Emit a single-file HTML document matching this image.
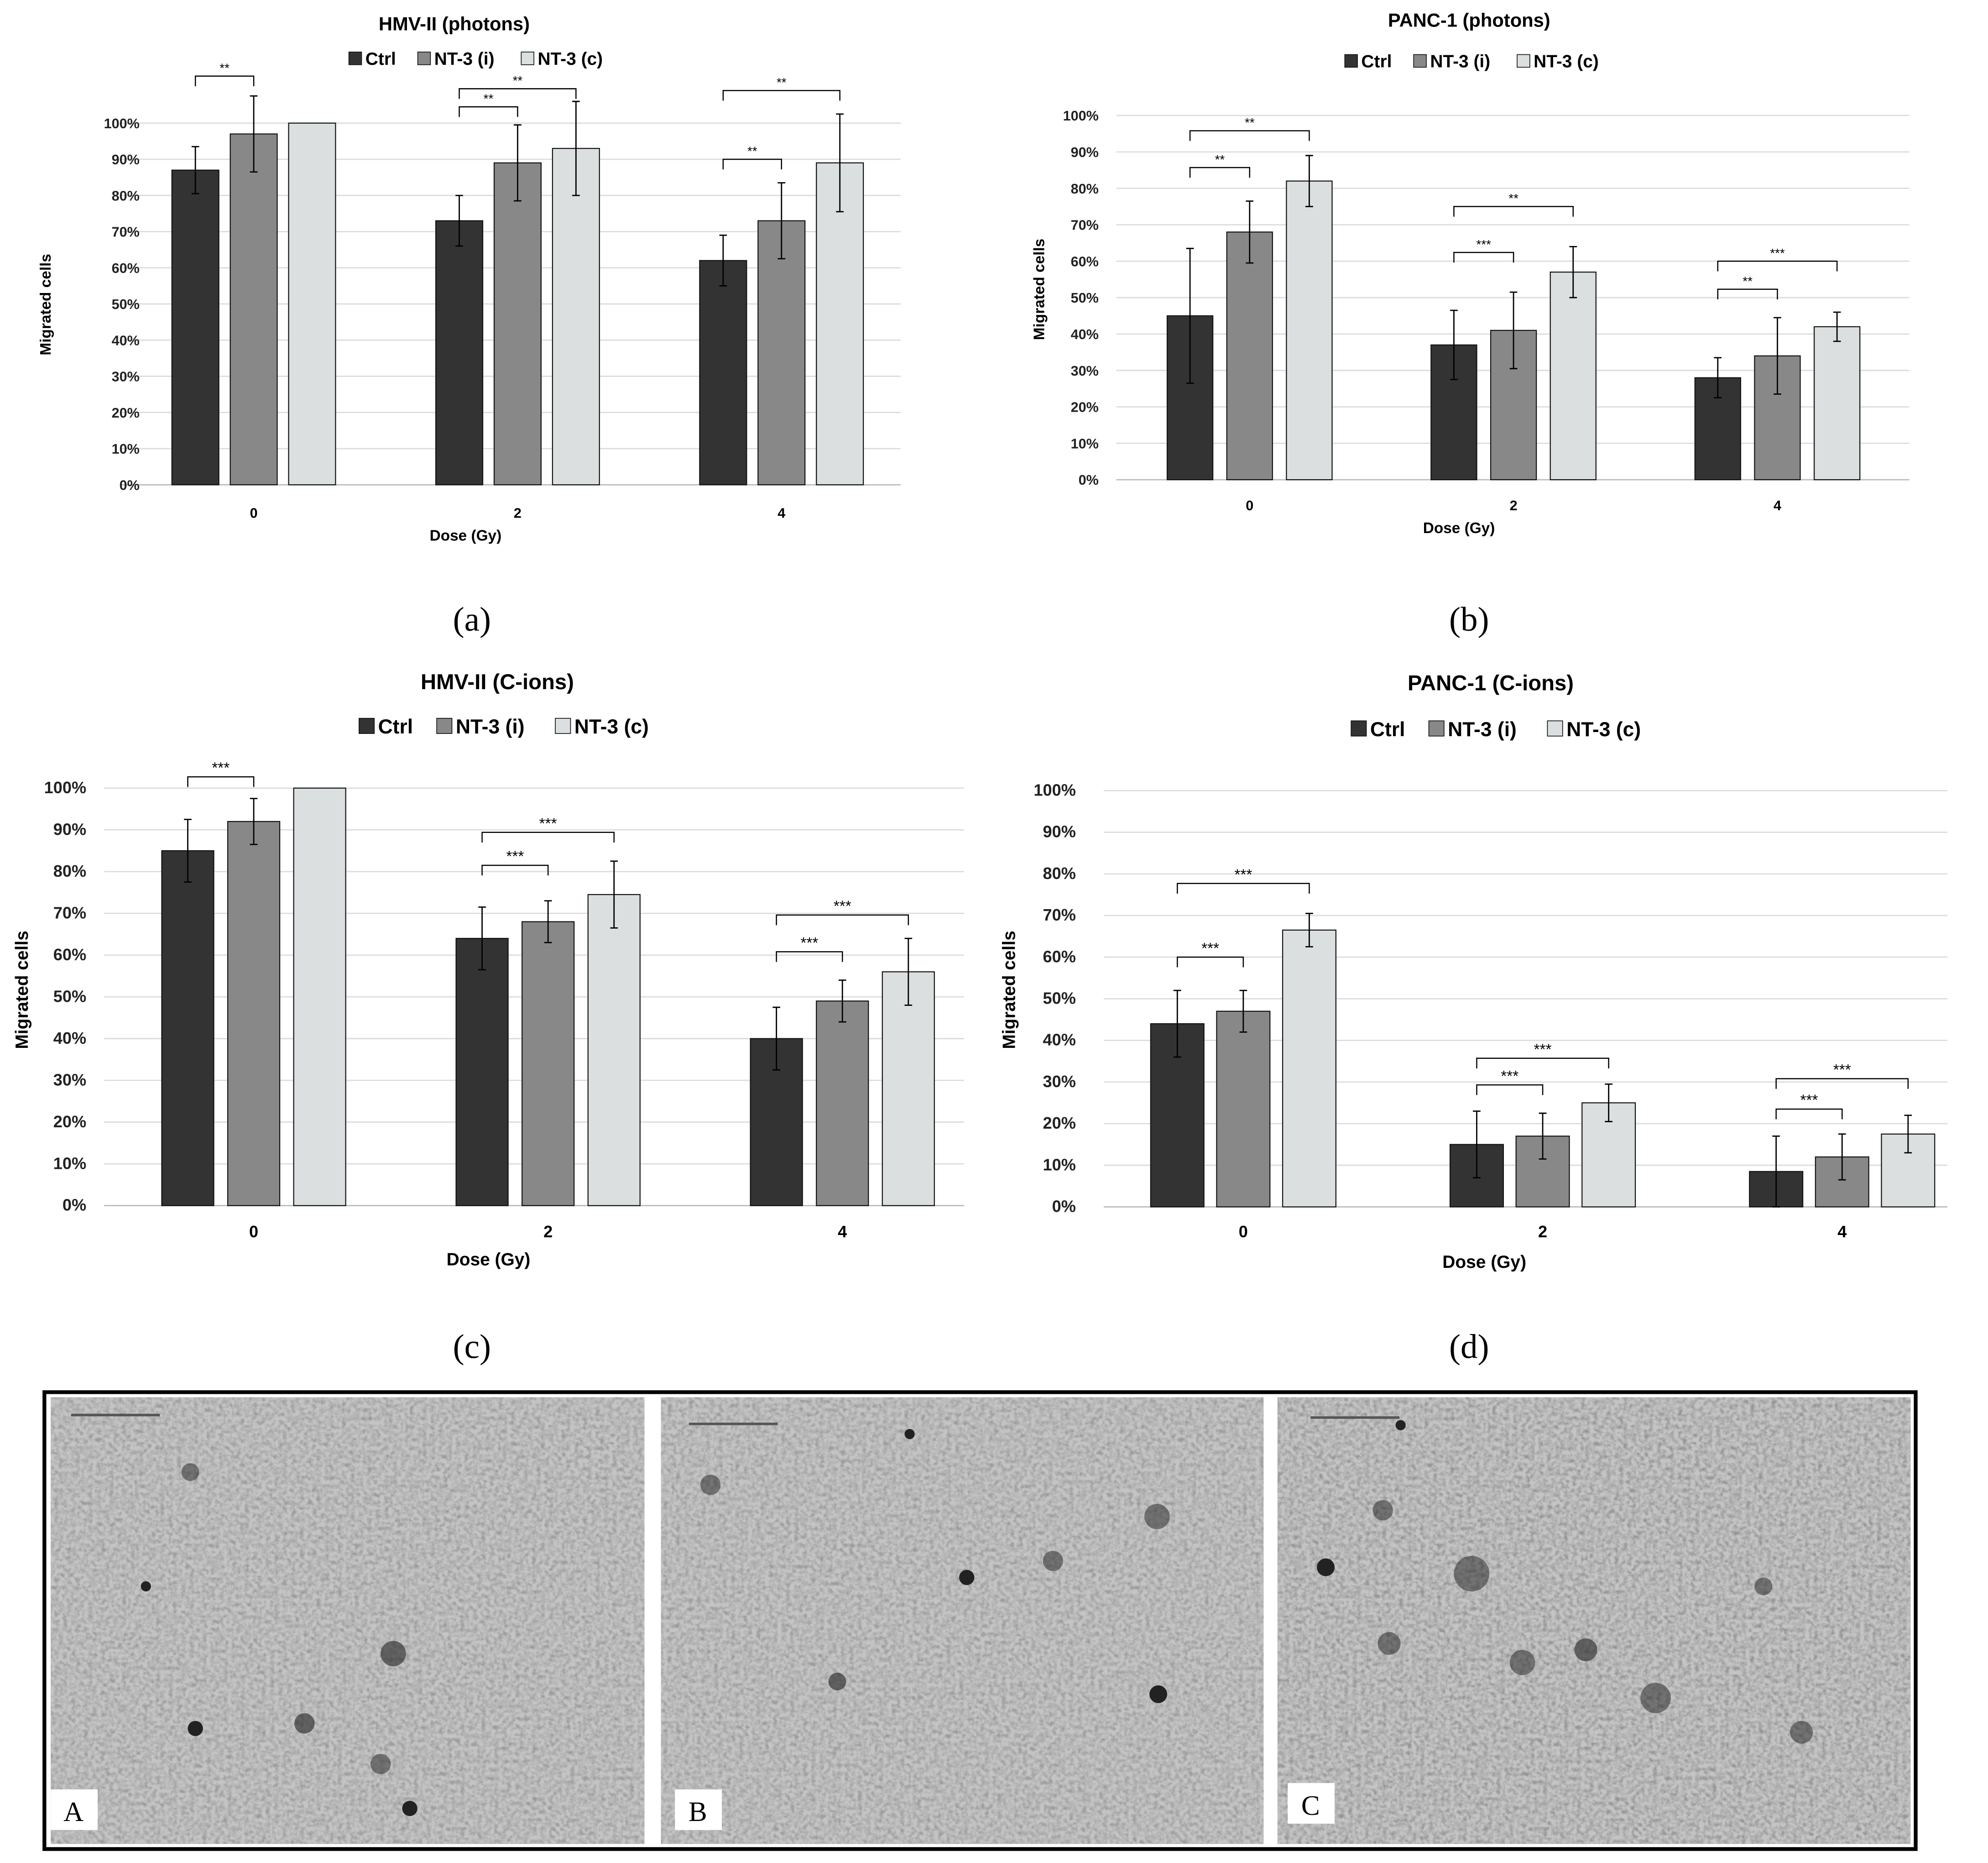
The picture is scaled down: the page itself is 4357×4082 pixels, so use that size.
<!DOCTYPE html>
<html><head><meta charset="utf-8"><style>
html,body{margin:0;padding:0;background:#fff;}
svg{display:block;}
text{font-family:"Liberation Sans",sans-serif;}
text.serif{font-family:"Liberation Serif",serif;}
</style></head><body>
<svg id="fig" xmlns="http://www.w3.org/2000/svg" width="4357" height="4082" viewBox="0 0 1567 1468" preserveAspectRatio="none">
<defs>
<filter id="tex" x="0" y="0" width="100%" height="100%">
<feTurbulence type="fractalNoise" baseFrequency="0.3" numOctaves="2" seed="3"/>
<feColorMatrix type="matrix" values="0 0 0 0 0.55  0 0 0 0 0.55  0 0 0 0 0.55  1.2 1.2 1.2 0 -1.1"/>
</filter>
</defs>
<rect width="1567" height="1468" fill="#fff"/>
<g id="charts"></g>
<g id="photos">
<rect x="35" y="1097" width="1475" height="360" fill="#fff" stroke="#000" stroke-width="3"/>
<rect x="40" y="1101" width="468" height="352" fill="#9c9c9c"/>
<rect x="40" y="1101" width="468" height="352" filter="url(#tex)"/>
<rect x="521" y="1101" width="475" height="352" fill="#9c9c9c"/>
<rect x="521" y="1101" width="475" height="352" filter="url(#tex)"/>
<rect x="1007" y="1101" width="499" height="352" fill="#969696"/>
<rect x="1007" y="1101" width="499" height="352" filter="url(#tex)"/>
<g fill="#222">
<circle cx="154" cy="1362" r="6"/><circle cx="115" cy="1250" r="4"/><circle cx="310" cy="1303" r="10" opacity=".6"/><circle cx="323" cy="1425" r="6"/><circle cx="240" cy="1358" r="8" opacity=".6"/><circle cx="150" cy="1160" r="7" opacity=".5"/><circle cx="300" cy="1390" r="8" opacity=".5"/>
<circle cx="762" cy="1243" r="6"/><circle cx="913" cy="1335" r="7"/><circle cx="912" cy="1195" r="10" opacity=".5"/><circle cx="660" cy="1325" r="7" opacity=".6"/><circle cx="717" cy="1130" r="4"/><circle cx="560" cy="1170" r="8" opacity=".5"/><circle cx="830" cy="1230" r="8" opacity=".5"/>
<circle cx="1045" cy="1235" r="7"/><circle cx="1160" cy="1240" r="14" opacity=".5"/><circle cx="1250" cy="1300" r="9" opacity=".6"/><circle cx="1305" cy="1338" r="12" opacity=".5"/><circle cx="1095" cy="1295" r="9" opacity=".5"/><circle cx="1420" cy="1365" r="9" opacity=".5"/><circle cx="1104" cy="1123" r="4"/><circle cx="1200" cy="1310" r="10" opacity=".5"/><circle cx="1090" cy="1190" r="8" opacity=".5"/><circle cx="1390" cy="1250" r="7" opacity=".5"/>
</g>
<line x1="56" y1="1115" x2="126" y2="1115" stroke="#555" stroke-width="2"/>
<line x1="543" y1="1122" x2="613" y2="1122" stroke="#555" stroke-width="2"/>
<line x1="1033" y1="1117" x2="1103" y2="1117" stroke="#555" stroke-width="2"/>
<rect x="40" y="1410" width="37" height="32" fill="#fff"/><text class="serif" x="58" y="1435" text-anchor="middle" font-size="22">A</text>
<rect x="532" y="1410" width="37" height="32" fill="#fff"/><text class="serif" x="550" y="1435" text-anchor="middle" font-size="22">B</text>
<rect x="1015" y="1405" width="37" height="32" fill="#fff"/><text class="serif" x="1033" y="1430" text-anchor="middle" font-size="22">C</text>
</g>
</svg>
<script>
const NS="http://www.w3.org/2000/svg";
const root=document.getElementById('charts');
const categories=["0","2","4"];
const seriesNames=["Ctrl","NT-3 (i)","NT-3 (c)"];
const ticks=["0%","10%","20%","30%","40%","50%","60%","70%","80%","90%","100%"];
const aCtrl=[87,73,62], aNTi=[97,89,73], aNTc=[100,93,89];
const aErrCtrl=[6.5,7,7], aErrNTi=[10.5,10.5,10.5], aErrNTc=[0,13,13.5];
const bCtrl=[45,37,28], bNTi=[68,41,34], bNTc=[82,57,42];
const bErrCtrl=[18.5,9.5,5.5], bErrNTi=[8.5,10.5,10.5], bErrNTc=[7,7,4];
const cCtrl=[85,64,40], cNTi=[92,68,49], cNTc=[100,74.5,56];
const cErrCtrl=[7.5,7.5,7.5], cErrNTi=[5.5,5,5], cErrNTc=[0,8,8];
const dCtrl=[44,15,8.5], dNTi=[47,17,12], dNTc=[66.5,25,17.5];
const dErrCtrl=[8,8,8.5], dErrNTi=[5,5.5,5.5], dErrNTc=[4,4.5,4.5];
const aSig=[[0,0,1,113,"**"],[1,0,1,104.5,"**"],[1,0,2,109.5,"**"],[2,0,1,90,"**"],[2,0,2,109,"**"]];
const bSig=[[0,0,1,85.7,"**"],[0,0,2,95.8,"**"],[1,0,1,62.4,"***"],[1,0,2,75,"**"],[2,0,1,52.3,"**"],[2,0,2,60,"***"]];
const cSig=[[0,0,1,102.7,"***"],[1,0,1,81.5,"***"],[1,0,2,89.4,"***"],[2,0,1,60.8,"***"],[2,0,2,69.6,"***"]];
const dSig=[[0,0,1,60,"***"],[0,0,2,77.7,"***"],[1,0,1,29.3,"***"],[1,0,2,35.7,"***"],[2,0,1,23.5,"***"],[2,0,2,30.8,"***"]];
const colors=["#333333","#878887","#dcdfdf"];
function el(tag,attrs,parent,txt){const e=document.createElementNS(NS,tag);for(const k in attrs)e.setAttribute(k,attrs[k]);if(txt!==undefined)e.textContent=txt;parent.appendChild(e);return e;}
const cfgs=[
 {id:'a',title:"HMV-II (photons)",y0:382,y100:97,x0:95,x1:710,centers:[200,408,616],off:46,bw:37,lab:110,tx:358,ty:24,ly:51,lx:275,ax:40,ay:240,cy:408,dx:367,dy:426,pl:372,py:497,fs:11,vals:[aCtrl,aNTi,aNTc],errs:[aErrCtrl,aErrNTi,aErrNTc],sig:aSig},
 {id:'b',title:"PANC-1 (photons)",y0:378,y100:91,x0:880,x1:1505,centers:[985,1193,1401],off:47,bw:36,lab:866,tx:1158,ty:21,ly:53,lx:1060,ax:823,ay:228,cy:402,dx:1150,dy:420,pl:1158,py:497,fs:11,vals:[bCtrl,bNTi,bNTc],errs:[bErrCtrl,bErrNTi,bErrNTc],sig:bSig},
 {id:'c',title:"HMV-II (C-ions)",y0:950,y100:621,x0:82,x1:760,centers:[200,432,664],off:52,bw:41,lab:68,tx:392,ty:543,ly:578,lx:283,ax:22,ay:780,cy:975,dx:385,dy:997,pl:372,py:1070,fs:13,vals:[cCtrl,cNTi,cNTc],errs:[cErrCtrl,cErrNTi,cErrNTc],sig:cSig},
 {id:'d',title:"PANC-1 (C-ions)",y0:951,y100:623,x0:870,x1:1535,centers:[980,1216,1452],off:52,bw:42,lab:848,tx:1175,ty:544,ly:580,lx:1065,ax:800,ay:780,cy:975,dx:1170,dy:999,pl:1158,py:1070,fs:13,vals:[dCtrl,dNTi,dNTc],errs:[dErrCtrl,dErrNTi,dErrNTc],sig:dSig}
];
cfgs.forEach(c=>{
 const g=el('g',{},root);
 
 
 const y=v=>c.y0-(c.y0-c.y100)*v/100;
 const x=(gi,si)=>c.centers[gi]+(si-1)*c.off;
 ticks.forEach((t,i)=>{
  const v=i*10;
  const ln=el('line',{x1:c.x0,x2:c.x1,y1:y(v),y2:y(v),stroke:i===0?'#bbb':'#dcdcdc','stroke-width':1},g);
  
  
  const tl=el('text',{x:c.lab,y:y(v)+4,'text-anchor':'end','font-size':c.fs,'font-weight':'bold',fill:'#222'},g,t);
  
  
 });
 c.vals.forEach((arr,si)=>arr.forEach((v,gi)=>{
  const cx=x(gi,si);
  const r=el('rect',{x:cx-c.bw/2,y:y(v),width:c.bw,height:y(0)-y(v),fill:colors[si],stroke:'#111','stroke-width':0.8},g);
  
  
  const e=c.errs[si][gi];
  if(e>0){
   const eb=el('path',{d:`M${cx},${y(v+e)}V${y(v-e)}M${cx-3},${y(v+e)}H${cx+3}M${cx-3},${y(v-e)}H${cx+3}`,stroke:'#000','stroke-width':1,fill:'none'},g);
   
   
  }
 }));
 c.sig.forEach(s=>{
  const xa=x(s[0],s[1]),xb=x(s[0],s[2]),yy=y(s[3]);
  const p=el('path',{d:`M${xa},${yy+8}V${yy}H${xb}V${yy+8}`,stroke:'#000','stroke-width':0.9,fill:'none'},g);
  
  
  const t=el('text',{x:(xa+xb)/2,y:yy-3,'text-anchor':'middle','font-size':c.fs-1,fill:'#000'},g,s[4]);
  
  
 });
 categories.forEach((cat,gi)=>{
  const t=el('text',{x:c.centers[gi],y:c.cy,'text-anchor':'middle','font-size':c.fs,'font-weight':'bold'},g,cat);
  
  
 });
 const tt=el('text',{x:c.tx,y:c.ty,'text-anchor':'middle','font-size':c.fs+4,'font-weight':'bold'},g,c.title);
 
 
 const xt=el('text',{x:c.dx,y:c.dy,'text-anchor':'middle','font-size':c.fs+1,'font-weight':'bold'},g,'Dose (Gy)');
 
 
 const yt=el('text',{x:c.ax,y:c.ay,'text-anchor':'middle','font-size':c.fs+1,'font-weight':'bold',transform:`rotate(-90 ${c.ax} ${c.ay})`},g,'Migrated cells');
 
 
 const pl=el('text',{x:c.pl,y:c.py,'text-anchor':'middle','font-size':27,'class':'serif'},g,'('+c.id+')');
 
 
 let lx=c.lx; const sz=c.fs;
 seriesNames.forEach((n,si)=>{
  const lg=el('g',{},g);
  
  
  el('rect',{x:lx,y:c.ly-sz+1,width:sz-1,height:sz-1,fill:colors[si],stroke:'#111','stroke-width':0.6},lg);
  el('text',{x:lx+sz+2,y:c.ly,'font-size':sz+3,'font-weight':'bold'},lg,n);
  lx+=sz+10+n.length*(sz*0.62)+6;
 });
});
</script>
</body></html>
